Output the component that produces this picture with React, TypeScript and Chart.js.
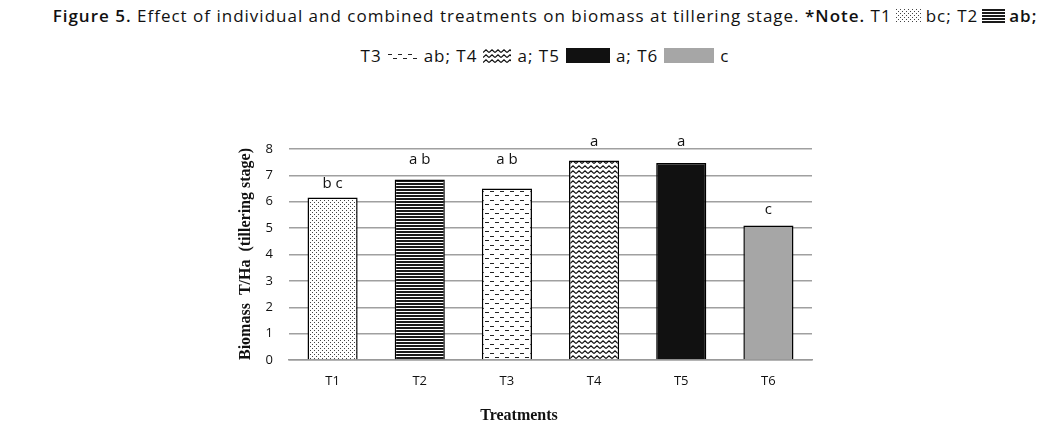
import React, { useEffect, useRef } from "react";
import { Chart, registerables } from "chart.js";

Chart.register(...registerables);

const categories = ["T1", "T2", "T3", "T4", "T5", "T6"];
const biomass = [6.16, 6.84, 6.5, 7.56, 7.47, 5.1];
const letters = ["b c", "a b", "a b", "a", "a", "c"];
const letterLevels = [6.7, 7.58, 7.58, 8.28, 8.28, 5.68];
const yTicks = [0, 1, 2, 3, 4, 5, 6, 7, 8];

type Kind = "dots" | "hlines" | "dashes" | "zigzag" | "solid" | "gray";
const kinds: Kind[] = ["dots", "hlines", "dashes", "zigzag", "solid", "gray"];

function makeTile(kind: Kind): HTMLCanvasElement {
  const c = document.createElement("canvas");
  const ctx = c.getContext("2d")!;
  if (kind === "dots") {
    c.width = 4; c.height = 4;
    ctx.fillStyle = "#fff"; ctx.fillRect(0, 0, 4, 4);
    ctx.fillStyle = "#444";
    ctx.fillRect(0, 0, 1, 1);
    ctx.fillRect(2, 2, 1, 1);
  } else if (kind === "hlines") {
    c.width = 4; c.height = 3;
    ctx.fillStyle = "#fff"; ctx.fillRect(0, 0, 4, 3);
    ctx.fillStyle = "#1a1a1a"; ctx.fillRect(0, 0, 4, 2);
  } else if (kind === "dashes") {
    c.width = 10; c.height = 9;
    ctx.fillStyle = "#fff"; ctx.fillRect(0, 0, 10, 9);
    ctx.fillStyle = "#222";
    ctx.fillRect(0, 2, 4, 1);
    ctx.fillRect(5, 6, 4, 1);
  } else if (kind === "zigzag") {
    c.width = 6; c.height = 5;
    ctx.fillStyle = "#fff"; ctx.fillRect(0, 0, 6, 5);
    ctx.strokeStyle = "#111"; ctx.lineWidth = 1.2;
    ctx.beginPath();
    ctx.moveTo(0, 3.5); ctx.lineTo(3, 0.8); ctx.lineTo(6, 3.5);
    ctx.stroke();
  } else if (kind === "solid") {
    c.width = 2; c.height = 2;
    ctx.fillStyle = "#111"; ctx.fillRect(0, 0, 2, 2);
  } else {
    c.width = 2; c.height = 2;
    ctx.fillStyle = "#a6a6a6"; ctx.fillRect(0, 0, 2, 2);
  }
  return c;
}

function patternFor(kind: Kind, ctx: CanvasRenderingContext2D) {
  return ctx.createPattern(makeTile(kind), "repeat")!;
}

const Swatch: React.FC<{ kind: Kind; w: number; h: number; m?: number }> = ({ kind, w, h, m = 4 }) => {
  const ref = useRef<HTMLCanvasElement>(null);
  useEffect(() => {
    const cv = ref.current!;
    const ctx = cv.getContext("2d")!;
    ctx.fillStyle = patternFor(kind, ctx);
    ctx.fillRect(0, 0, w, h);
  }, [kind, w, h]);
  return (
    <canvas
      ref={ref}
      width={w}
      height={h}
      style={{ display: "inline-block", verticalAlign: "-1px", margin: `0 ${m}px` }}
    />
  );
};

const App: React.FC = () => {
  const canvasRef = useRef<HTMLCanvasElement>(null);

  useEffect(() => {
    const canvas = canvasRef.current!;
    const ctx = canvas.getContext("2d")!;
    const fills = kinds.map((k) => patternFor(k, ctx));

    const annot = {
      id: "annot",
      afterDatasetsDraw(chart: any) {
        const c = chart.ctx;
        const meta = chart.getDatasetMeta(0);
        const yScale = chart.scales.y;
        c.save();
        c.fillStyle = "#111";
        c.font = "15px 'Open Sans', 'Liberation Sans', sans-serif";
        c.textAlign = "center";
        c.textBaseline = "middle";
        meta.data.forEach((bar: any, i: number) => {
          c.fillText(letters[i], bar.x, yScale.getPixelForValue(letterLevels[i]));
        });
        // y title
        c.save();
        c.translate(246, 254);
        c.rotate(-Math.PI / 2);
        c.font = "bold 16px 'Liberation Serif', serif";
        c.textBaseline = "middle";
        c.fillText("Biomass  T/Ha  (tillering stage)", 0, 0);
        c.restore();
        // x title
        c.font = "bold 16px 'Liberation Serif', serif";
        c.textBaseline = "middle";
        c.fillText("Treatments", 519, 416);
        c.restore();
      },
    };

    const chart = new Chart(canvas, {
      type: "bar",
      data: {
        labels: categories,
        datasets: [
          {
            data: biomass,
            backgroundColor: fills as any,
            borderColor: "#000",
            borderWidth: 1.5,
            barPercentage: 0.575,
            categoryPercentage: 1,
          },
        ],
      },
      options: {
        animation: false,
        responsive: false,
        maintainAspectRatio: false,
        layout: { padding: { left: 0, right: 241, top: 149, bottom: 0 } },
        plugins: { legend: { display: false }, tooltip: { enabled: false }, title: { display: false } },
        scales: {
          y: {
            min: 0,
            max: 8,
            afterFit: (s: any) => { s.width = 289; },
            afterBuildTicks: (s: any) => { s.ticks = yTicks.map((v) => ({ value: v })); },
            ticks: {
              color: "#111",
              padding: 16,
              font: { family: "'Open Sans', 'Liberation Sans', sans-serif", size: 13 },
            },
            grid: { color: "#a0a0a0", lineWidth: 1.5, drawTicks: false },
            border: { display: false },
          },
          x: {
            afterFit: (s: any) => { s.height = 87; },
            ticks: {
              color: "#111",
              padding: 13,
              font: { family: "'Open Sans', 'Liberation Sans', sans-serif", size: 13 },
            },
            grid: { display: false, drawTicks: false },
            border: { display: true, color: "#999", width: 1.5 },
          },
        },
      },
      plugins: [annot],
    });
    return () => chart.destroy();
  }, []);

  const line: React.CSSProperties = {
    position: "absolute",
    left: 0,
    width: 1090,
    textAlign: "center",
    fontFamily: "'Open Sans', 'Liberation Sans', Arial, sans-serif",
    fontSize: 17,
    letterSpacing: "1px",
    color: "#111",
    whiteSpace: "nowrap",
    lineHeight: "22px",
  };

  return (
    <div style={{ position: "absolute", left: 0, top: 0, width: 1053, height: 447, background: "#fff" }}>
      <div style={{ ...line, top: 5 }}>
        <span style={{ fontWeight: 600 }}>Figure 5.</span> Effect of individual and combined treatments on biomass at tillering stage.{" "}
        <span style={{ fontWeight: 600 }}>*Note.</span> T1<Swatch kind="dots" w={26} h={14} />bc; T2<Swatch kind="hlines" w={23} h={14} />
        <span style={{ fontWeight: 600 }}>ab;</span>
      </div>
      <div style={{ ...line, top: 45, fontWeight: 500 }}>
        T3<Swatch kind="dashes" w={30} h={11} m={6} />ab; T4<Swatch kind="zigzag" w={28} h={14} m={6} />a; T5
        <Swatch kind="solid" w={44} h={15} m={6} />a; T6<Swatch kind="gray" w={50} h={15} m={6} />c
      </div>
      <canvas
        ref={canvasRef}
        width={1053}
        height={447}
        style={{ position: "absolute", left: 0, top: 0 }}
      />
    </div>
  );
};

export default App;
